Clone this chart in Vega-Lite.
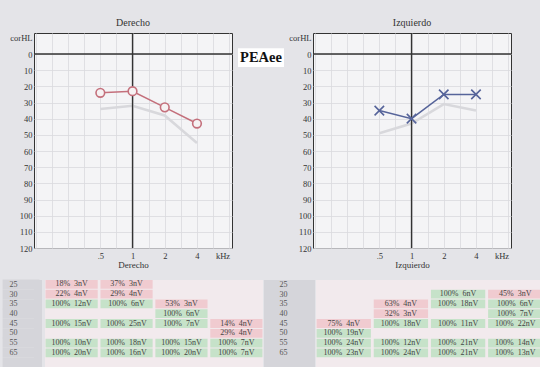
{
  "$schema": "https://vega.github.io/schema/vega-lite/v6.json",
  "background": "#e4e4e8",
  "padding": {"left": 0, "top": 17, "right": 0, "bottom": 0},
  "config": {
    "font": "Liberation Serif",
    "view": {"fill": "#f4f4f6", "stroke": "#333", "strokeWidth": 1},
    "axis": {
      "labelFont": "Liberation Serif", "titleFont": "Liberation Serif",
      "labelColor": "#333", "titleColor": "#333", "labelFontSize": 8.5,
      "titleFontSize": 9, "titleFontWeight": "normal", "ticks": false,
      "domain": false, "gridColor": "#d9d9de", "gridWidth": 0.8, "labelOverlap": false
    },
    "title": {"font": "Liberation Serif", "fontSize": 10, "fontWeight": "normal", "color": "#333", "offset": 0}
  },
  "datasets": {
    "aud": [
      {"ear": "Derecho", "s": "ref", "freq": 0.5, "dB": 34},
      {"ear": "Derecho", "s": "ref", "freq": 1, "dB": 32},
      {"ear": "Derecho", "s": "ref", "freq": 2, "dB": 38},
      {"ear": "Derecho", "s": "ref", "freq": 4, "dB": 55},
      {"ear": "Derecho", "s": "umbral", "freq": 0.5, "dB": 24},
      {"ear": "Derecho", "s": "umbral", "freq": 1, "dB": 23},
      {"ear": "Derecho", "s": "umbral", "freq": 2, "dB": 33},
      {"ear": "Derecho", "s": "umbral", "freq": 4, "dB": 43},
      {"ear": "Izquierdo", "s": "ref", "freq": 0.5, "dB": 49},
      {"ear": "Izquierdo", "s": "ref", "freq": 1, "dB": 43},
      {"ear": "Izquierdo", "s": "ref", "freq": 2, "dB": 31},
      {"ear": "Izquierdo", "s": "ref", "freq": 4, "dB": 35},
      {"ear": "Izquierdo", "s": "umbral", "freq": 0.5, "dB": 35},
      {"ear": "Izquierdo", "s": "umbral", "freq": 1, "dB": 40},
      {"ear": "Izquierdo", "s": "umbral", "freq": 2, "dB": 25},
      {"ear": "Izquierdo", "s": "umbral", "freq": 4, "dB": 25}
    ],
    "levels": [
      {"level": "25"}, {"level": "30"}, {"level": "35"}, {"level": "40"},
      {"level": "45"}, {"level": "50"}, {"level": "55"}, {"level": "65"}
    ],
    "cells": [
      {"side": "D", "level": "25", "col": "c1", "txt": "18%\u00a0\u00a03nV", "st": "low"},
      {"side": "D", "level": "25", "col": "c2", "txt": "37%\u00a0\u00a03nV", "st": "low"},
      {"side": "D", "level": "30", "col": "c1", "txt": "22%\u00a0\u00a04nV", "st": "low"},
      {"side": "D", "level": "30", "col": "c2", "txt": "29%\u00a0\u00a04nV", "st": "low"},
      {"side": "D", "level": "35", "col": "c1", "txt": "100%\u00a0\u00a012nV", "st": "ok"},
      {"side": "D", "level": "35", "col": "c2", "txt": "100%\u00a0\u00a06nV", "st": "ok"},
      {"side": "D", "level": "35", "col": "c3", "txt": "53%\u00a0\u00a03nV", "st": "low"},
      {"side": "D", "level": "40", "col": "c3", "txt": "100%\u00a0\u00a06nV", "st": "ok"},
      {"side": "D", "level": "45", "col": "c1", "txt": "100%\u00a0\u00a015nV", "st": "ok"},
      {"side": "D", "level": "45", "col": "c2", "txt": "100%\u00a0\u00a025nV", "st": "ok"},
      {"side": "D", "level": "45", "col": "c3", "txt": "100%\u00a0\u00a07nV", "st": "ok"},
      {"side": "D", "level": "45", "col": "c4", "txt": "14%\u00a0\u00a04nV", "st": "low"},
      {"side": "D", "level": "50", "col": "c4", "txt": "29%\u00a0\u00a04nV", "st": "low"},
      {"side": "D", "level": "55", "col": "c1", "txt": "100%\u00a0\u00a010nV", "st": "ok"},
      {"side": "D", "level": "55", "col": "c2", "txt": "100%\u00a0\u00a018nV", "st": "ok"},
      {"side": "D", "level": "55", "col": "c3", "txt": "100%\u00a0\u00a015nV", "st": "ok"},
      {"side": "D", "level": "55", "col": "c4", "txt": "100%\u00a0\u00a07nV", "st": "ok"},
      {"side": "D", "level": "65", "col": "c1", "txt": "100%\u00a0\u00a020nV", "st": "ok"},
      {"side": "D", "level": "65", "col": "c2", "txt": "100%\u00a0\u00a016nV", "st": "ok"},
      {"side": "D", "level": "65", "col": "c3", "txt": "100%\u00a0\u00a020nV", "st": "ok"},
      {"side": "D", "level": "65", "col": "c4", "txt": "100%\u00a0\u00a07nV", "st": "ok"},
      {"side": "I", "level": "30", "col": "c3", "txt": "100%\u00a0\u00a06nV", "st": "ok"},
      {"side": "I", "level": "30", "col": "c4", "txt": "45%\u00a0\u00a03nV", "st": "low"},
      {"side": "I", "level": "35", "col": "c2", "txt": "63%\u00a0\u00a04nV", "st": "low"},
      {"side": "I", "level": "35", "col": "c3", "txt": "100%\u00a0\u00a018nV", "st": "ok"},
      {"side": "I", "level": "35", "col": "c4", "txt": "100%\u00a0\u00a06nV", "st": "ok"},
      {"side": "I", "level": "40", "col": "c2", "txt": "32%\u00a0\u00a03nV", "st": "low"},
      {"side": "I", "level": "40", "col": "c4", "txt": "100%\u00a0\u00a07nV", "st": "ok"},
      {"side": "I", "level": "45", "col": "c1", "txt": "75%\u00a0\u00a04nV", "st": "low"},
      {"side": "I", "level": "45", "col": "c2", "txt": "100%\u00a0\u00a018nV", "st": "ok"},
      {"side": "I", "level": "45", "col": "c3", "txt": "100%\u00a0\u00a011nV", "st": "ok"},
      {"side": "I", "level": "45", "col": "c4", "txt": "100%\u00a0\u00a022nV", "st": "ok"},
      {"side": "I", "level": "50", "col": "c1", "txt": "100%\u00a0\u00a019nV", "st": "ok"},
      {"side": "I", "level": "55", "col": "c1", "txt": "100%\u00a0\u00a024nV", "st": "ok"},
      {"side": "I", "level": "55", "col": "c2", "txt": "100%\u00a0\u00a012nV", "st": "ok"},
      {"side": "I", "level": "55", "col": "c3", "txt": "100%\u00a0\u00a021nV", "st": "ok"},
      {"side": "I", "level": "55", "col": "c4", "txt": "100%\u00a0\u00a014nV", "st": "ok"},
      {"side": "I", "level": "65", "col": "c1", "txt": "100%\u00a0\u00a023nV", "st": "ok"},
      {"side": "I", "level": "65", "col": "c2", "txt": "100%\u00a0\u00a024nV", "st": "ok"},
      {"side": "I", "level": "65", "col": "c3", "txt": "100%\u00a0\u00a021nV", "st": "ok"},
      {"side": "I", "level": "65", "col": "c4", "txt": "100%\u00a0\u00a013nV", "st": "ok"}
    ]
  },
  "vconcat": [
    {
      "hconcat": [
        {
          "width": 198, "height": 215,
          "title": "Derecho",
          "data": {"name": "aud"},
          "transform": [{"filter": "datum.ear == 'Derecho'"}],
          "layer": [
            {
              "transform": [{"filter": "datum.s == 'ref'"}],
              "mark": {"type": "line", "color": "#d8d8dc", "strokeWidth": 2.5},
              "encoding": {
                "x": {"field": "freq", "type": "quantitative",
                  "scale": {"type": "log", "base": 2, "domain": [0.12, 8.5], "nice": false},
                  "axis": {"values": [0.125, 0.177, 0.25, 0.354, 0.5, 0.707, 1, 1.414, 2, 2.83, 4, 5.66, 8],
                    "labelExpr": "datum.value == 0.5 ? '.5' : datum.value == 1 ? '1' : datum.value == 2 ? '2' : datum.value == 4 ? '4' : ''",
                    "tickCount": 30, "labelOverlap": false,
                    "title": "Derecho", "titlePadding": 1, "labelPadding": 3}},
                "y": {"field": "dB", "type": "quantitative",
                  "scale": {"domain": [-13, 120], "reverse": true, "nice": false, "zero": false},
                  "axis": {"values": [-10, 0, 10, 20, 30, 40, 50, 60, 70, 80, 90, 100, 110, 120],
                    "labelExpr": "datum.value == -10 ? 'corHL' : datum.label",
                    "gridOpacity": {"condition": {"test": "datum.value == -10", "value": 0}, "value": 1},
                    "tickCount": 30, "labelOverlap": false,
                    "title": null, "labelPadding": 2, "minExtent": 32, "maxExtent": 32}}
              }
            },
            {
              "data": {"values": [{}]},
              "mark": {"type": "rule", "color": "#333", "strokeWidth": 1.4},
              "encoding": {"y": {"datum": 0, "type": "quantitative"}}
            },
            {
              "data": {"values": [{}]},
              "mark": {"type": "rule", "color": "#333", "strokeWidth": 1.4},
              "encoding": {"x": {"datum": 1, "type": "quantitative"}}
            },
            {
              "data": {"values": [{"t": "kHz"}]},
              "mark": {"type": "text", "baseline": "top", "dy": 4, "fontSize": 8.5, "color": "#333"},
              "encoding": {"x": {"datum": 7, "type": "quantitative"}, "y": {"datum": 120, "type": "quantitative"}, "text": {"field": "t"}}
            },
            {
              "transform": [{"filter": "datum.s == 'umbral'"}],
              "mark": {"type": "line", "color": "#c4707c", "strokeWidth": 1.6},
              "encoding": {"x": {"field": "freq", "type": "quantitative"}, "y": {"field": "dB", "type": "quantitative"}}
            },
            {
              "transform": [{"filter": "datum.s == 'umbral'"}],
              "mark": {"type": "point", "shape": "circle", "filled": true, "fill": "#f6f2f3", "stroke": "#c4707c", "strokeWidth": 1.6, "size": 75, "opacity": 1},
              "encoding": {"x": {"field": "freq", "type": "quantitative"}, "y": {"field": "dB", "type": "quantitative"}}
            }
          ]
        },
        {
          "width": 46, "height": 215,
          "view": {"stroke": null, "fill": null},
          "data": {"values": [{"label": "PEAee", "dB": 2.5}]},
          "layer": [
            {
              "mark": {"type": "rect", "color": "#ffffff"},
              "encoding": {
                "y": {"datum": -3.5, "type": "quantitative", "scale": {"domain": [-13, 120], "reverse": true, "nice": false, "zero": false}, "axis": null},
                "y2": {"datum": 8}
              }
            },
            {
              "mark": {"type": "text", "font": "Liberation Serif", "fontWeight": "bold", "fontSize": 14.5, "color": "#111"},
              "encoding": {
                "y": {"field": "dB", "type": "quantitative"},
                "text": {"field": "label"}
              }
            }
          ]
        },
        {
          "width": 198, "height": 215,
          "title": "Izquierdo",
          "data": {"name": "aud"},
          "transform": [{"filter": "datum.ear == 'Izquierdo'"}],
          "layer": [
            {
              "transform": [{"filter": "datum.s == 'ref'"}],
              "mark": {"type": "line", "color": "#d8d8dc", "strokeWidth": 2.5},
              "encoding": {
                "x": {"field": "freq", "type": "quantitative",
                  "scale": {"type": "log", "base": 2, "domain": [0.12, 8.5], "nice": false},
                  "axis": {"values": [0.125, 0.177, 0.25, 0.354, 0.5, 0.707, 1, 1.414, 2, 2.83, 4, 5.66, 8],
                    "labelExpr": "datum.value == 0.5 ? '.5' : datum.value == 1 ? '1' : datum.value == 2 ? '2' : datum.value == 4 ? '4' : ''",
                    "tickCount": 30, "labelOverlap": false,
                    "title": "Izquierdo", "titlePadding": 1, "labelPadding": 3}},
                "y": {"field": "dB", "type": "quantitative",
                  "scale": {"domain": [-13, 120], "reverse": true, "nice": false, "zero": false},
                  "axis": {"values": [-10, 0, 10, 20, 30, 40, 50, 60, 70, 80, 90, 100, 110, 120],
                    "labelExpr": "datum.value == -10 ? 'corHL' : datum.label",
                    "gridOpacity": {"condition": {"test": "datum.value == -10", "value": 0}, "value": 1},
                    "tickCount": 30, "labelOverlap": false,
                    "title": null, "labelPadding": 2}}
              }
            },
            {
              "data": {"values": [{}]},
              "mark": {"type": "rule", "color": "#333", "strokeWidth": 1.4},
              "encoding": {"y": {"datum": 0, "type": "quantitative"}}
            },
            {
              "data": {"values": [{}]},
              "mark": {"type": "rule", "color": "#333", "strokeWidth": 1.4},
              "encoding": {"x": {"datum": 1, "type": "quantitative"}}
            },
            {
              "data": {"values": [{"t": "kHz"}]},
              "mark": {"type": "text", "baseline": "top", "dy": 4, "fontSize": 8.5, "color": "#333"},
              "encoding": {"x": {"datum": 7, "type": "quantitative"}, "y": {"datum": 120, "type": "quantitative"}, "text": {"field": "t"}}
            },
            {
              "transform": [{"filter": "datum.s == 'umbral'"}],
              "mark": {"type": "line", "color": "#56649a", "strokeWidth": 1.6},
              "encoding": {"x": {"field": "freq", "type": "quantitative"}, "y": {"field": "dB", "type": "quantitative"}}
            },
            {
              "transform": [{"filter": "datum.s == 'umbral'"}],
              "mark": {"type": "point", "shape": "M-1,-1L1,1M-1,1L1,-1", "filled": false, "stroke": "#56649a", "strokeWidth": 1.6, "size": 90, "opacity": 1},
              "encoding": {"x": {"field": "freq", "type": "quantitative"}, "y": {"field": "dB", "type": "quantitative"}}
            }
          ]
        }
      ],
      "spacing": 4
    },
    {
      "hconcat": [
        {
          "width": 8, "height": 87,
          "view": {"fill": "#d5d5da", "stroke": null},
          "data": {"name": "levels"},
          "mark": {"type": "text", "opacity": 0},
          "encoding": {
            "y": {"field": "level", "type": "ordinal",
              "scale": {"domain": ["25", "30", "35", "40", "45", "50", "55", "65", " "]},
              "axis": {"ticks": true, "tickSize": 27, "tickWidth": 9.8, "tickColor": "#d5d5da", "tickBand": "center", "tickCap": "square",
                "labelAlign": "left", "labelPadding": -2, "labelFontSize": 8, "labelColor": "#555",
                "title": null, "domain": false, "minExtent": 32, "maxExtent": 32, "labelOverlap": false}},
            "text": {"field": "level"}
          }
        },
        {
          "width": 218, "height": 87,
          "view": {"fill": "#f2eaed", "stroke": null},
          "data": {"name": "cells"},
          "transform": [{"filter": "datum.side == 'D'"}],
          "encoding": {
            "x": {"field": "col", "type": "nominal", "scale": {"domain": ["c1", "c2", "c3", "c4"], "paddingInner": 0.05, "paddingOuter": 0.01}, "axis": null},
            "y": {"field": "level", "type": "ordinal", "scale": {"domain": ["25", "30", "35", "40", "45", "50", "55", "65", " "], "paddingInner": 0.1, "paddingOuter": 0}, "axis": null}
          },
          "layer": [
            {"mark": {"type": "rect"},
             "encoding": {"color": {"field": "st", "type": "nominal", "scale": {"domain": ["ok", "low"], "range": ["#c6e2c9", "#f0cbd0"]}, "legend": null}}},
            {"mark": {"type": "text", "fontSize": 8, "color": "#444"},
             "encoding": {"text": {"field": "txt"}}}
          ]
        },
        {
          "width": 51, "height": 87,
          "view": {"fill": "#d5d5da", "stroke": null},
          "data": {"name": "levels"},
          "mark": {"type": "text", "fontSize": 8, "color": "#555", "align": "left", "dx": -10},
          "encoding": {
            "y": {"field": "level", "type": "ordinal", "scale": {"domain": ["25", "30", "35", "40", "45", "50", "55", "65", " "]}, "axis": null},
            "text": {"field": "level"}
          }
        },
        {
          "width": 227, "height": 87,
          "view": {"fill": "#f2eaed", "stroke": null},
          "data": {"name": "cells"},
          "transform": [{"filter": "datum.side == 'I'"}],
          "encoding": {
            "x": {"field": "col", "type": "nominal", "scale": {"domain": ["c1", "c2", "c3", "c4"], "paddingInner": 0.05, "paddingOuter": 0.01}, "axis": null},
            "y": {"field": "level", "type": "ordinal", "scale": {"domain": ["25", "30", "35", "40", "45", "50", "55", "65", " "], "paddingInner": 0.1, "paddingOuter": 0}, "axis": null}
          },
          "layer": [
            {"mark": {"type": "rect"},
             "encoding": {"color": {"field": "st", "type": "nominal", "scale": {"domain": ["ok", "low"], "range": ["#c6e2c9", "#f0cbd0"]}, "legend": null}}},
            {"mark": {"type": "text", "fontSize": 8, "color": "#444"},
             "encoding": {"text": {"field": "txt"}}}
          ]
        }
      ],
      "spacing": 1
    }
  ],
  "spacing": 7
}
